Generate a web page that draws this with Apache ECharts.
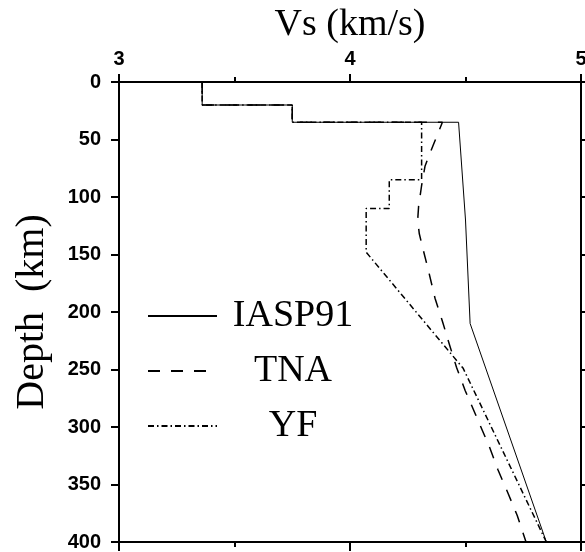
<!DOCTYPE html>
<html>
<head>
<meta charset="utf-8">
<script src="https://cdn.jsdelivr.net/npm/echarts@6/dist/echarts.min.js"></script>
<style>html,body{margin:0;padding:0;background:#fff;}#c{width:585px;height:552px;}</style>
</head>
<body>
<div id="c"></div>
<script>
// Vs (km/s) and depth (km) for each model
const iaspVs    = [3.36, 3.36, 3.75, 3.75, 4.47, 4.50, 4.52, 4.85];
const iaspDepth = [0,    20,   20,   35,   35,   120,  210,  400];

const tnaVs    = [3.36, 3.36, 3.75, 3.75, 4.40, 4.36, 4.325, 4.31, 4.297, 4.293, 4.30, 4.317, 4.342, 4.368, 4.40, 4.433, 4.461, 4.498, 4.541, 4.603, 4.64, 4.685, 4.724, 4.762];
const tnaDepth = [0,    20,   20,   35,   35,   55,   73,    90,   108,   120,   132,  146,   166,   188,   208,  230,   248,   268,   288,   317,   337,  358,   377,   400];

const yfVs    = [3.36, 3.36, 3.75, 3.75, 4.31, 4.31, 4.17, 4.17, 4.07, 4.07, 4.49, 4.85];
const yfDepth = [0,    20,   20,   35,   35,   85,   85,   110,  110,  148,  249,  400];

const seriesNames = ['IASP91', 'TNA', 'YF'];
const xTicks = {min: 3, max: 5, step: 1};
const yTicks = {min: 0, max: 400, step: 50};

function pairs(xs, ys) { return xs.map((v, i) => [v, ys[i]]); }

const chart = echarts.init(document.getElementById('c'), null, {renderer: 'canvas'});
const black = '#000';
const sans = 'Liberation Sans, Arial, sans-serif';
const serif = 'Liberation Serif, Times New Roman, serif';
const labelFont = {color: black, fontSize: 20, fontWeight: 'bold', fontFamily: sans};

function xAx(pos, labels) {
  return {
    type: 'value', position: pos, min: xTicks.min, max: xTicks.max, interval: xTicks.step,
    axisLine: {show: true, onZero: false, lineStyle: {color: black, width: 2}},
    axisTick: {show: true, inside: false, length: pos === 'top' ? 8 : 9, lineStyle: {color: black, width: 2}},
    minorTick: {show: true, splitNumber: 2, length: 5, lineStyle: {color: black, width: 2}},
    splitLine: {show: false}, minorSplitLine: {show: false},
    axisLabel: Object.assign({show: labels, margin: 13}, labelFont),
    name: labels ? 'Vs (km/s)' : '', nameLocation: 'middle', nameGap: 34,
    nameTextStyle: {color: black, fontSize: 38, fontFamily: serif}
  };
}
function yAx(pos, labels) {
  return {
    type: 'value', position: pos, inverse: true, min: yTicks.min, max: yTicks.max, interval: yTicks.step,
    axisLine: {show: true, onZero: false, lineStyle: {color: black, width: 2}},
    axisTick: {show: true, inside: false, length: 8, lineStyle: {color: black, width: 2}},
    splitLine: {show: false},
    axisLabel: Object.assign({show: labels, margin: 18}, labelFont),
    name: labels ? 'Depth  (km)' : '', nameLocation: 'middle', nameGap: 67,
    nameTextStyle: {color: black, fontSize: 40, fontFamily: serif}
  };
}

const dashes = ['solid', [12, 11], [6, 3, 1.5, 3]];
const widths = [1, 1.5, 1.5];
const datas = [pairs(iaspVs, iaspDepth), pairs(tnaVs, tnaDepth), pairs(yfVs, yfDepth)];

chart.setOption({
  animation: false,
  backgroundColor: '#fff',
  grid: {left: 119, right: 4, top: 82, bottom: 10, containLabel: false, outerBoundsMode: 'none'},
  xAxis: [xAx('top', true), xAx('bottom', false)],
  yAxis: [yAx('left', true), yAx('right', false)],
  legend: {
    orient: 'vertical', left: 142, top: 292, itemWidth: 69, itemHeight: 14, itemGap: 17,
    selectedMode: false,
    itemStyle: {opacity: 0},
    data: seriesNames,
    formatter: n => '{c|' + n + '}',
    textStyle: {rich: {c: {fontFamily: serif, fontSize: 38, color: black, width: 142, align: 'center', lineHeight: 40}}}
  },
  series: seriesNames.map((n, i) => ({
    name: n, type: 'line', xAxisIndex: 0, yAxisIndex: 0, data: datas[i],
    symbol: 'none', showSymbol: false, clip: true,
    lineStyle: {color: black, width: widths[i], type: dashes[i]},
    itemStyle: {color: black}
  }))
});
</script>
</body>
</html>
